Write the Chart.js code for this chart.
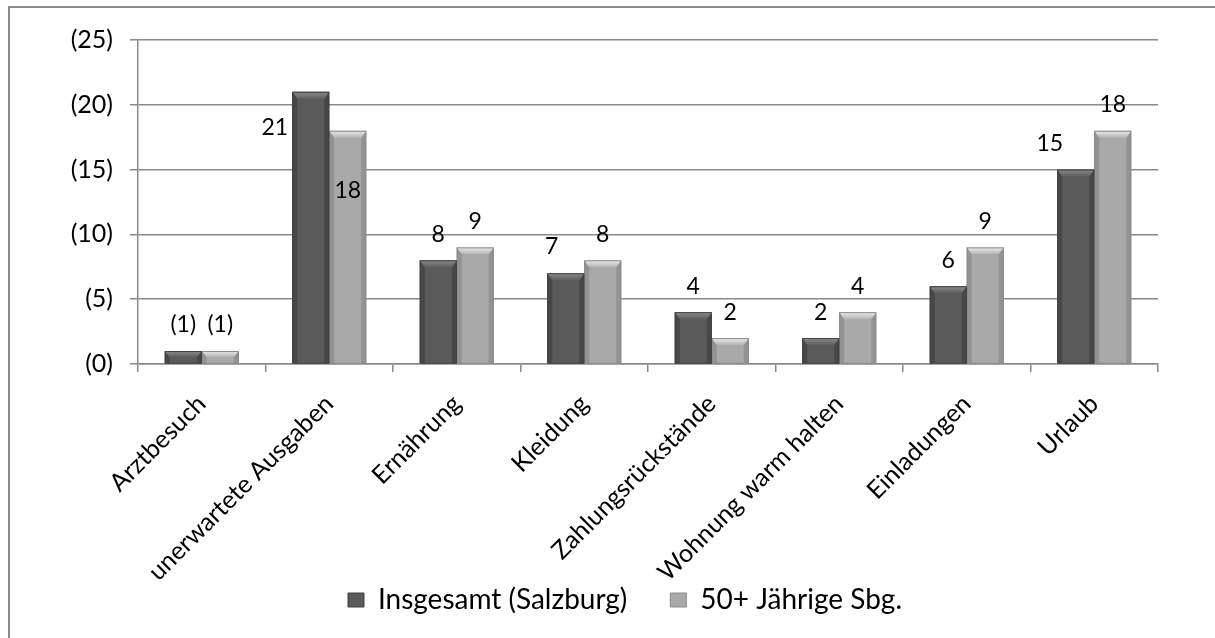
<!DOCTYPE html>
<html>
<head>
<meta charset="utf-8">
<script src="https://cdn.jsdelivr.net/npm/chart.js@4.4.1/dist/chart.umd.min.js"></script>
<style>
  html, body { margin: 0; padding: 0; background: #fff; overflow: hidden; }
  #frame { position: absolute; left: 8px; top: 6px; width: 1400px; height: 800px; border: 2px solid #8a8a8a; }
  #wrap { position: absolute; left: 0; top: 0; width: 1215px; height: 638px; }
</style>
</head>
<body>
<div id="frame"></div>
<div id="wrap"><canvas id="c" width="1215" height="638"></canvas></div>
<script>
const categories = ['Arztbesuch', 'unerwartete Ausgaben', 'Ernährung', 'Kleidung', 'Zahlungsrückstände', 'Wohnung warm halten', 'Einladungen', 'Urlaub'];
const seriesNames = ['Insgesamt (Salzburg)', '50+ Jährige Sbg.'];
const insgesamt = [1, 21, 8, 7, 4, 2, 6, 15];
const jaehrige50 = [1, 18, 9, 8, 2, 4, 9, 18];
const insgesamtLabels = ['(1)', '21', '8', '7', '4', '2', '6', '15'];
const jaehrige50Labels = ['(1)', '18', '9', '8', '2', '4', '9', '18'];
const yTickLabels = ['(0)', '(5)', '(10)', '(15)', '(20)', '(25)'];

const FONT = 'Lato, "Noto Sans", sans-serif';
const palette = [
  { face: '#5a5a5a', side: '#474747', capTop: '#8c8c8c', capBot: '#5e5e5e', border: '#404040' },
  { face: '#a9a9a9', side: '#939393', capTop: '#ececec', capBot: '#b2b2b2', border: '#8a8a8a' }
];
const labelArrays = [insgesamtLabels, jaehrige50Labels];
// label placement tweaks (dx, dy) relative to the default spot above each bar
const labelTweaks = { '0-1': [-36, 62], '1-1': [0, 86], '0-3': [-14, -1], '0-7': [-26, 0] };

const bevelPlugin = {
  id: 'bevel',
  afterDatasetDraw(chart, args) {
    const ctx = chart.ctx;
    const p = palette[args.index];
    args.meta.data.forEach(bar => {
      const w = bar.width, l = bar.x - w / 2, r = bar.x + w / 2, t = bar.y, b = bar.base;
      const h = b - t;
      const bv = Math.min(7, h / 2);
      ctx.save();
      ctx.fillStyle = p.side;
      ctx.beginPath(); ctx.moveTo(l, t); ctx.lineTo(l + 5, t + bv); ctx.lineTo(l + 5, b); ctx.lineTo(l, b); ctx.closePath(); ctx.fill();
      ctx.beginPath(); ctx.moveTo(r, t); ctx.lineTo(r - 5, t + bv); ctx.lineTo(r - 5, b); ctx.lineTo(r, b); ctx.closePath(); ctx.fill();
      const g = ctx.createLinearGradient(0, t, 0, t + bv);
      g.addColorStop(0, p.capTop); g.addColorStop(1, p.capBot);
      ctx.fillStyle = g;
      ctx.beginPath(); ctx.moveTo(l, t); ctx.lineTo(r, t); ctx.lineTo(r - 5, t + bv); ctx.lineTo(l + 5, t + bv); ctx.closePath(); ctx.fill();
      ctx.strokeStyle = p.border; ctx.lineWidth = 1;
      ctx.strokeRect(l + 0.5, t + 0.5, w - 1, h - 0.5);
      ctx.restore();
    });
  }
};

const labelPlugin = {
  id: 'valueLabels',
  afterDatasetsDraw(chart) {
    const ctx = chart.ctx;
    ctx.save();
    ctx.font = '23px ' + FONT;
    ctx.fillStyle = '#000';
    ctx.textAlign = 'center';
    ctx.textBaseline = 'middle';
    chart.data.datasets.forEach((ds, di) => {
      chart.getDatasetMeta(di).data.forEach((bar, i) => {
        const tw = labelTweaks[di + '-' + i] || [0, 0];
        ctx.fillText(labelArrays[di][i], bar.x + tw[0], bar.y - 26 + tw[1]);
      });
    });
    ctx.restore();
  }
};

const legendShift = {
  id: 'legendShift',
  afterLayout(chart) {
    const lg = chart.legend;
    const w = lg.right - lg.left;
    const center = 625;
    lg.left = center - w / 2;
    lg.right = center + w / 2;
    const h = lg.bottom - lg.top;
    lg.top = 543;
    lg.bottom = lg.top + h;
  }
};

new Chart(document.getElementById('c'), {
  type: 'bar',
  data: {
    labels: categories,
    datasets: [
      { label: seriesNames[0], data: insgesamt, backgroundColor: palette[0].face, borderWidth: 0 },
      { label: seriesNames[1], data: jaehrige50, backgroundColor: palette[1].face, borderWidth: 0 }
    ]
  },
  options: {
    responsive: false,
    animation: false,
    events: [],
    layout: { padding: { top: 40, right: 57, bottom: -39, left: 0 } },
    datasets: { bar: { categoryPercentage: 0.58, barPercentage: 1.0 } },
    plugins: {
      tooltip: { enabled: false },
      legend: {
        position: 'bottom',
        labels: {
          font: { family: FONT, size: 28 },
          color: '#000',
          boxWidth: 16,
          boxHeight: 14,
          padding: 43,
          generateLabels(chart) {
            return chart.data.datasets.map((ds, i) => ({
              text: ds.label, fillStyle: palette[i].face, strokeStyle: palette[i].border,
              lineWidth: 1, hidden: false, datasetIndex: i, fontColor: '#000'
            }));
          }
        }
      }
    },
    scales: {
      x: {
        grid: { display: true, drawOnChartArea: false, drawTicks: true, tickLength: 8, color: '#8a8a8a', lineWidth: 1.5 },
        border: { display: true, color: '#8a8a8a', width: 1.5 },
        ticks: { font: { family: FONT, size: 25 }, color: '#000', minRotation: 45, maxRotation: 45, autoSkip: false, padding: 17 },
        afterFit(s) { s.height = 232; }
      },
      y: {
        min: 0, max: 25,
        grid: { color: '#8a8a8a', lineWidth: 1.5, tickLength: 8 },
        border: { display: true, color: '#8a8a8a', width: 1.5 },
        ticks: {
          stepSize: 5,
          font: { family: FONT, size: 25 },
          color: '#000',
          padding: 17,
          callback: (v) => yTickLabels[Math.round(v / 5)]
        },
        afterFit(s) { s.width = 138; }
      }
    }
  },
  plugins: [bevelPlugin, labelPlugin, legendShift]
});
</script>
</body>
</html>
